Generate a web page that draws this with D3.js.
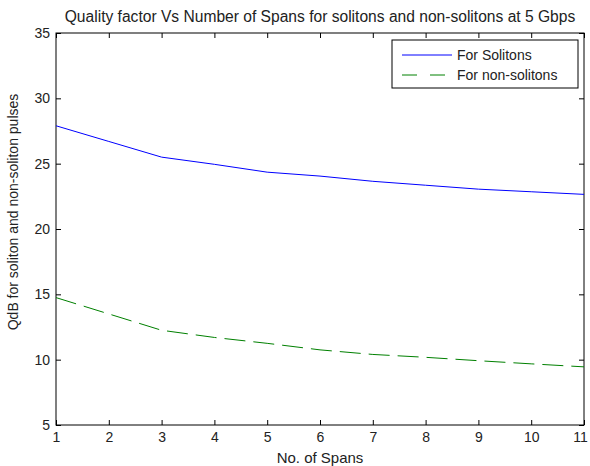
<html>
<head>
<meta charset="UTF-8" />
<style>
body { margin:0; background:#fff; }
text { font-family: "Liberation Sans", Arial, sans-serif; fill:#222; }
</style>
</head>
<body>
<script src="https://d3js.org/d3.v7.min.js"></script>
<script>
var width = 590;
var height = 466;

var spans = [1, 2, 3, 4, 5, 6, 7, 8, 9, 10, 11];
var solitons = [27.9, 26.7, 25.5, 24.95, 24.35, 24.05, 23.65, 23.35, 23.05, 22.85, 22.65];
var nonSolitons = [14.75, 13.5, 12.25, 11.7, 11.25, 10.75, 10.4, 10.18, 9.92, 9.68, 9.45];
var yTicks = [5, 10, 15, 20, 25, 30, 35];
var seriesNames = ["For Solitons", "For non-solitons"];

var margin = {left:56, right:6, top:33, bottom:41};

var svg = d3.select("body")
			.append("svg")
			.attr("width",width)
			.attr("height",height);

var x = d3.scaleLinear().domain([1,11]).range([margin.left, width-margin.right]);
var y = d3.scaleLinear().domain([5,35]).range([height-margin.bottom, margin.top]);

//box
svg.append("rect")
   .attr("x",x(1)).attr("y",y(35))
   .attr("width",x(11)-x(1)).attr("height",y(5)-y(35))
   .attr("fill","none").attr("stroke","#000").attr("stroke-width",1);

function styleAxis(g){
	g.select(".domain").remove();
	g.selectAll("line").attr("stroke","#000");
	g.selectAll("text").attr("font-size",14).attr("fill","#222");
}

var xAxisG = svg.append("g")
   .attr("transform","translate(0,"+y(5)+")")
   .call(d3.axisBottom(x).tickValues(spans).tickSize(-5).tickPadding(7).tickFormat(d3.format("d")))
   .call(styleAxis);
// last label sits at the right edge of the window
xAxisG.selectAll("text").filter(d => d === 11).attr("dx",-4);

svg.append("g")
   .attr("transform","translate(0,"+y(35)+")")
   .call(d3.axisTop(x).tickValues(spans).tickSize(-5).tickFormat(""))
   .call(styleAxis);
svg.append("g")
   .attr("transform","translate("+x(1)+",0)")
   .call(d3.axisLeft(y).tickValues(yTicks).tickSize(-5).tickPadding(6))
   .call(styleAxis);
svg.append("g")
   .attr("transform","translate("+x(11)+",0)")
   .call(d3.axisRight(y).tickValues(yTicks).tickSize(-5).tickFormat(""))
   .call(styleAxis);

//lines
var line = d3.line().x((d,i) => x(spans[i])).y(d => y(d));

svg.append("path")
   .attr("d",line(solitons))
   .attr("fill","none").attr("stroke","#0000ff").attr("stroke-width",1);
svg.append("path")
   .attr("d",line(nonSolitons))
   .attr("fill","none").attr("stroke","#008000").attr("stroke-width",1)
   .attr("stroke-dasharray","21,8");

//legend
var lg = svg.append("g").attr("transform","translate(392,40)");
lg.append("rect").attr("width",186).attr("height",48)
  .attr("fill","#fff").attr("stroke","#000").attr("stroke-width",1);
var colors = ["#0000ff","#008000"];
var dashes = [null,"15,13"];
seriesNames.forEach(function(n,i){
	var ly = 15 + i*20;
	lg.append("line").attr("x1",10).attr("x2",60).attr("y1",ly).attr("y2",ly)
	  .attr("stroke",colors[i]).attr("stroke-width",1)
	  .attr("stroke-dasharray",dashes[i]);
	lg.append("text").attr("x",65).attr("y",ly+5).attr("font-size",14).text(n);
});

//titles
svg.append("text")
   .attr("x",(x(1)+x(11))/2).attr("y",22)
   .attr("text-anchor","middle").attr("font-size",15.6)
   .text("Quality factor Vs Number of Spans for solitons and non-solitons at 5 Gbps");
svg.append("text")
   .attr("x",(x(1)+x(11))/2).attr("y",463)
   .attr("text-anchor","middle").attr("font-size",15)
   .text("No. of Spans");
svg.append("text")
   .attr("transform","translate(18,212) rotate(-90)")
   .attr("text-anchor","middle").attr("font-size",14)
   .text("QdB for soliton and non-soliton pulses");
</script>
</body>
</html>
